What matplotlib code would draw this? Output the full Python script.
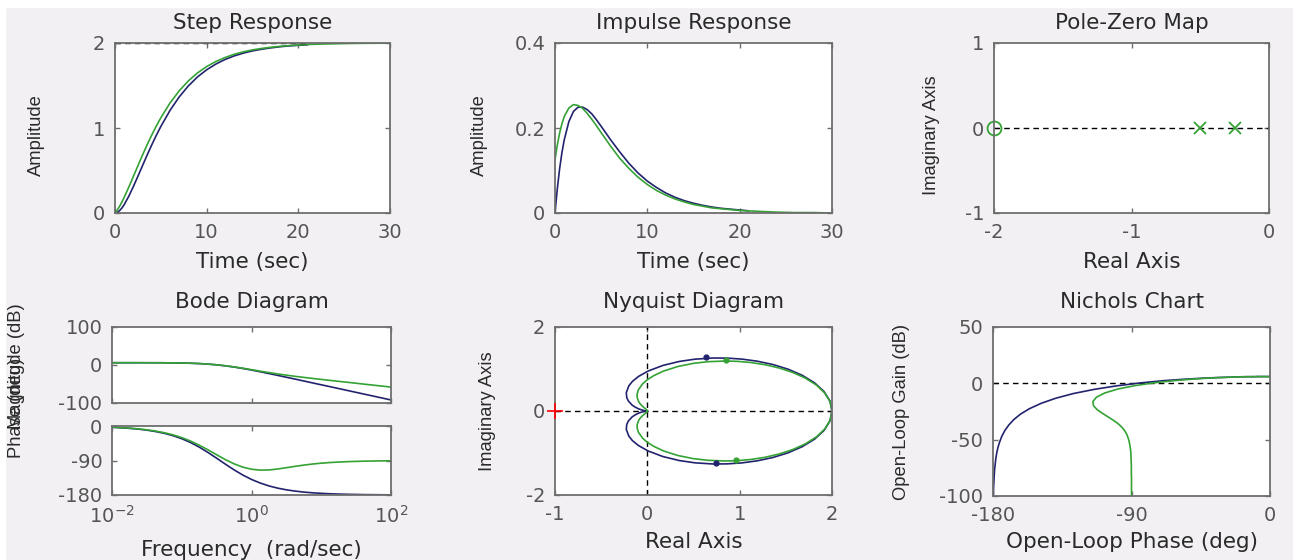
import matplotlib
matplotlib.use('Agg')
import matplotlib.pyplot as plt
from matplotlib.patches import Rectangle

plt.rcParams['font.family'] = ['DejaVu Sans']
plt.rcParams['axes.unicode_minus'] = False
plt.rcParams['mathtext.fontset'] = 'dejavusans'

# ---------------- data ----------------
# Step / impulse responses (time in sec)
t_b = [0, 0.25, 0.5, 0.75, 1, 1.5, 2, 2.5, 3, 3.5, 4, 4.5, 5, 6, 7, 8, 9, 10, 11, 12, 13, 14, 15, 16, 17, 18, 19, 20, 21]
t_g = [0, 0.25, 0.5, 0.75, 1, 1.5, 2, 2.5, 3, 3.5, 4, 4.5, 5, 6, 7, 8, 9, 10, 11, 12, 13, 14, 15, 16, 17, 18, 19, 20, 21, 22, 24, 26, 28, 30]
step_blue = [0.000, 0.007, 0.028, 0.058, 0.098, 0.196, 0.310, 0.432, 0.557, 0.680, 0.799, 0.912, 1.018, 1.207, 1.365, 1.495, 1.601, 1.685, 1.752, 1.806, 1.848, 1.881, 1.907, 1.927, 1.943, 1.956, 1.966, 1.973, 1.979]
step_green = [0.000, 0.036, 0.079, 0.129, 0.184, 0.303, 0.429, 0.556, 0.681, 0.802, 0.915, 1.022, 1.120, 1.294, 1.437, 1.554, 1.648, 1.723, 1.782, 1.829, 1.867, 1.896, 1.919, 1.936, 1.950, 1.961, 1.970, 1.976, 1.982, 1.986, 1.991, 1.995, 1.997, 1.998]
step_final = 2.0
imp_blue = [0.000, 0.057, 0.104, 0.142, 0.172, 0.215, 0.239, 0.249, 0.249, 0.243, 0.233, 0.219, 0.204, 0.173, 0.144, 0.117, 0.094, 0.075, 0.060, 0.047, 0.037, 0.029, 0.023, 0.018, 0.014, 0.011, 0.009, 0.007, 0.005]
imp_green = [0.125, 0.160, 0.188, 0.210, 0.227, 0.247, 0.255, 0.253, 0.246, 0.234, 0.220, 0.205, 0.189, 0.158, 0.129, 0.105, 0.084, 0.067, 0.053, 0.042, 0.033, 0.026, 0.020, 0.016, 0.012, 0.010, 0.008, 0.006, 0.005, 0.004, 0.002, 0.001, 0.001, 0.000]

# Pole-zero map
poles_re = [-0.5, -0.25]
poles_im = [0, 0]
zeros_re = [-2]
zeros_im = [0]

# Bode diagram
freq = [0.01, 0.01334, 0.01778, 0.02371, 0.03162, 0.04217, 0.05623, 0.07499,
        0.1, 0.1334, 0.1778, 0.2371, 0.3162, 0.4217, 0.5623, 0.7499,
        1, 1.334, 1.778, 2.371, 3.162, 4.217, 5.623, 7.499,
        10, 13.34, 17.78, 23.71, 31.62, 42.17, 56.23, 74.99, 100]
mag_blue = [6.0, 6.0, 6.0, 6.0, 5.9, 5.9, 5.8, 5.5, 5.2, 4.6, 3.7, 2.4, 0.4, -2.2, -5.4, -9.1, -13.3, -17.8, -22.5, -27.3, -32.2, -37.1, -42.1, -47.1, -52.1, -57.0, -62.0, -67.0, -72.0, -77.0, -82.0, -87.0, -92.0]
mag_green = [6.0, 6.0, 6.0, 6.0, 5.9, 5.9, 5.8, 5.6, 5.2, 4.7, 3.8, 2.4, 0.5, -2.0, -5.0, -8.5, -12.3, -16.2, -19.9, -23.5, -26.7, -29.8, -32.6, -35.3, -37.9, -40.5, -43.0, -45.5, -48.0, -50.6, -53.1, -55.6, -58.1]
phase_blue = [-3.4, -4.6, -6.1, -8.1, -10.8, -14.4, -19.1, -25.2, -33.1, -43.0, -55.0, -68.9, -84.0, -99.5, -114.4, -127.9, -139.4, -148.8, -156.3, -162.1, -166.5, -169.8, -172.4, -174.3, -175.7, -176.8, -177.6, -178.2, -178.6, -179.0, -179.2, -179.4, -179.6]
phase_green = [-3.1, -4.2, -5.6, -7.5, -9.9, -13.2, -17.5, -23.1, -30.2, -39.2, -49.9, -62.1, -75.0, -87.6, -98.7, -107.3, -112.8, -115.1, -114.7, -112.2, -108.8, -105.2, -102.0, -99.2, -97.0, -95.3, -94.0, -93.0, -92.3, -91.7, -91.3, -91.0, -90.7]

# Nyquist diagram (positive-frequency branch; the other branch is its mirror image)
nyq_blue_re = [2.000, 1.978, 1.913, 1.811, 1.678, 1.525, 1.360, 1.190, 1.023, 0.864, 0.715, 0.516, 0.347, 0.169, 0.009, -0.096, -0.162, -0.200, -0.228, -0.223, -0.206, -0.165, -0.129, -0.092, -0.056, -0.037, -0.026, -0.015, -0.007, -0.002, -0.001, 0.000, 0.000]
nyq_blue_im = [0.000, -0.238, -0.465, -0.671, -0.849, -0.995, -1.107, -1.186, -1.236, -1.259, -1.262, -1.234, -1.180, -1.085, -0.952, -0.822, -0.704, -0.600, -0.437, -0.321, -0.240, -0.141, -0.089, -0.049, -0.022, -0.011, -0.007, -0.003, -0.001, 0.000, 0.000, 0.000, 0.000]
nyq_green_re = [2.000, 1.980, 1.922, 1.831, 1.712, 1.575, 1.426, 1.273, 1.122, 0.977, 0.841, 0.658, 0.501, 0.331, 0.176, 0.069, -0.003, -0.050, -0.097, -0.111, -0.110, -0.094, -0.076, -0.055, -0.034, -0.023, -0.016, -0.009, -0.004, -0.002, 0.000, 0.000, 0.000]
nyq_green_im = [0.000, -0.218, -0.427, -0.617, -0.782, -0.918, -1.025, -1.103, -1.154, -1.182, -1.190, -1.174, -1.135, -1.060, -0.951, -0.841, -0.740, -0.650, -0.505, -0.399, -0.322, -0.224, -0.166, -0.118, -0.078, -0.058, -0.046, -0.033, -0.021, -0.013, -0.006, -0.003, -0.001]
arrow_blue_re = [0.63, 0.74]
arrow_blue_im = [1.28, -1.24]
arrow_green_re = [0.85, 0.96]
arrow_green_im = [1.22, -1.16]
crit_re = [-1]
crit_im = [0]

# Nichols chart
nich_blue_phase = [-0.3, -0.5, -0.6, -0.8, -1.1, -1.4, -1.9, -2.6, -3.4, -4.6, -6.1, -8.1, -10.8, -14.4, -19.1, -25.2, -33.1, -43.0, -55.0, -68.9, -84.0, -99.5, -114.4, -127.9, -139.4, -148.8, -156.3, -162.1, -166.5, -169.8, -172.4, -174.3, -175.7, -176.8, -177.6, -178.2, -178.6, -179.0, -179.2, -179.4, -179.6, -179.7, -179.8]
nich_blue_gain = [6.0, 6.0, 6.0, 6.0, 6.0, 6.0, 6.0, 6.0, 6.0, 6.0, 6.0, 6.0, 5.9, 5.9, 5.8, 5.5, 5.2, 4.6, 3.7, 2.4, 0.4, -2.2, -5.4, -9.1, -13.3, -17.8, -22.5, -27.3, -32.2, -37.1, -42.1, -47.1, -52.1, -57.0, -62.0, -67.0, -72.0, -77.0, -82.0, -87.0, -92.0, -97.0, -102.0]
nich_green_phase = [-0.3, -0.4, -0.6, -0.7, -1.0, -1.3, -1.8, -2.4, -3.1, -4.2, -5.6, -7.5, -9.9, -13.2, -17.5, -23.1, -30.2, -39.2, -49.9, -62.1, -75.0, -87.6, -98.7, -107.3, -112.8, -115.1, -114.7, -112.2, -108.8, -105.2, -102.0, -99.2, -97.0, -95.3, -94.0, -93.0, -92.3, -91.7, -91.3, -91.0, -90.7, -90.5, -90.4, -90.3, -90.2, -90.2, -90.1, -90.1, -90.1, -90.1, -90.0, -90.0, -90.0, -90.0, -90.0, -90.0, -90.0, -90.0]
nich_green_gain = [6.0, 6.0, 6.0, 6.0, 6.0, 6.0, 6.0, 6.0, 6.0, 6.0, 6.0, 6.0, 5.9, 5.9, 5.8, 5.6, 5.2, 4.7, 3.8, 2.4, 0.5, -2.0, -5.0, -8.5, -12.3, -16.2, -19.9, -23.5, -26.7, -29.8, -32.6, -35.3, -37.9, -40.5, -43.0, -45.5, -48.0, -50.6, -53.1, -55.6, -58.1, -60.6, -63.1, -65.6, -68.1, -70.6, -73.1, -75.6, -78.1, -80.6, -83.1, -85.6, -88.1, -90.6, -93.1, -95.6, -98.1, -100.6]

# ---------------- styling ----------------
BLUE = '#22236e'
GREEN = '#35a235'
AXC = '#6e6e6e'
TXT = '#555555'
LAB = '#2a2a2a'
VFONT = ['Liberation Sans', 'DejaVu Sans']
LW = 1.2
W, H = 1293, 560
fig = plt.figure(figsize=(12.93, 5.6), dpi=100, facecolor='#f2f0f3')
fig.patches.append(Rectangle((0, 1 - 7 / H), 1, 7 / H, transform=fig.transFigure, color='white', zorder=0))
fig.patches.append(Rectangle((0, 0), 5 / W, 1, transform=fig.transFigure, color='white', zorder=0))


def px(l, t, r, b):
    return [l / W, 1 - b / H, (r - l) / W, (b - t) / H]


def style(ax):
    ax.set_facecolor('white')
    for s in ax.spines.values():
        s.set_color(AXC)
        s.set_linewidth(1.3)
    ax.tick_params(direction='in', top=True, right=True, length=3.5, width=1,
                   color=AXC, labelcolor=TXT, labelsize=14, pad=7)
    ax.minorticks_off()


def title(ax, s, pad):
    ax.set_title(s, fontsize=15.5, color=LAB, pad=pad)


def ylab(ax, s, x, y=0.46):
    ax.set_ylabel(s, family=VFONT, fontsize=13.2, color=LAB, va='center')
    ax.yaxis.set_label_coords(x, y)


def xlab(ax, s, y):
    ax.set_xlabel(s, fontsize=15.5, color=LAB, va='center')
    ax.xaxis.set_label_coords(0.5, y)


dash = dict(color='k', lw=1, dashes=(4, 3))

# Step Response
ax = fig.add_axes(px(115, 43, 390, 213)); style(ax)
ax.plot(t_b, step_blue, color=BLUE, lw=LW)
ax.plot(t_g, step_green, color=GREEN, lw=LW)
ax.plot([t_b[0], t_b[-1]], [step_final, step_final], **dash)
ax.set_xlim(0, 30); ax.set_ylim(0, 2)
ax.set_xticks([0, 10, 20, 30]); ax.set_yticks([0, 1, 2])
title(ax, 'Step Response', 10); ylab(ax, 'Amplitude', -0.284); xlab(ax, 'Time (sec)', -0.288)

# Impulse Response
ax = fig.add_axes(px(555, 43, 832, 213)); style(ax)
ax.plot(t_b, imp_blue, color=BLUE, lw=LW)
ax.plot(t_g, imp_green, color=GREEN, lw=LW)
ax.axhline(0, **dash)
ax.set_xlim(0, 30); ax.set_ylim(0, 0.4)
ax.set_xticks([0, 10, 20, 30]); ax.set_yticks([0, 0.2, 0.4]); ax.set_yticklabels(['0', '0.2', '0.4'])
title(ax, 'Impulse Response', 10); ylab(ax, 'Amplitude', -0.274); xlab(ax, 'Time (sec)', -0.288)

# Pole-Zero Map
ax = fig.add_axes(px(994, 43, 1269, 213)); style(ax)
ax.axhline(0, **dash)
ax.plot(poles_re, poles_im, 'x', color=GREEN, ms=9, mew=1.3)
ax.plot(zeros_re, zeros_im, 'o', mfc='none', mec=GREEN, ms=10, mew=1.3, clip_on=False)
ax.set_xlim(-2, 0); ax.set_ylim(-1, 1)
ax.set_xticks([-2, -1, 0]); ax.set_yticks([-1, 0, 1])
title(ax, 'Pole-Zero Map', 10); ylab(ax, 'Imaginary Axis', -0.228); xlab(ax, 'Real Axis', -0.288)

# Bode Diagram
axm = fig.add_axes(px(112, 327, 391, 403)); style(axm)
axp = fig.add_axes(px(112, 426, 391, 495)); style(axp)
for a in (axm, axp):
    a.set_xscale('log'); a.set_xlim(1e-2, 1e2); a.set_xticks([1e-2, 1, 1e2]); a.minorticks_off()
axm.plot(freq, mag_blue, color=BLUE, lw=LW); axm.plot(freq, mag_green, color=GREEN, lw=LW)
axp.plot(freq, phase_blue, color=BLUE, lw=LW); axp.plot(freq, phase_green, color=GREEN, lw=LW)
axm.set_ylim(-100, 100); axm.set_yticks([-100, 0, 100]); axm.set_xticklabels([])
axp.set_ylim(-180, 0); axp.set_yticks([-180, -90, 0])
axp.set_xticklabels(['$10^{-2}$', '$10^{0}$', '$10^{2}$'])
title(axm, 'Bode Diagram', 14)
axp.set_xlabel('Frequency  (rad/sec)', fontsize=15.5, color=LAB, va='center')
axp.xaxis.set_label_coords(0.5, -0.8)
fig.text(17 / W, 1 - 303 / H, 'Magnitude (dB)', rotation=90, ha='center', va='top',
         family=VFONT, fontsize=13.2, color=LAB)
fig.text(17 / W, 1 - 458 / H, 'Phase (deg)', rotation=90, ha='center', va='bottom',
         family=VFONT, fontsize=13.2, color=LAB)

# Nyquist Diagram
ax = fig.add_axes(px(555, 327, 832, 495)); style(ax)
ax.axhline(0, **dash); ax.axvline(0, **dash)
ax.plot(nyq_blue_re, nyq_blue_im, color=BLUE, lw=LW)
ax.plot(nyq_blue_re, [-v for v in nyq_blue_im], color=BLUE, lw=LW)
ax.plot(nyq_green_re, nyq_green_im, color=GREEN, lw=LW)
ax.plot(nyq_green_re, [-v for v in nyq_green_im], color=GREEN, lw=LW)
ax.plot(arrow_blue_re, arrow_blue_im, 'o', color=BLUE, ms=3.5)
ax.plot(arrow_green_re, arrow_green_im, 'o', color=GREEN, ms=3.5)
ax.plot(crit_re, crit_im, '+', color='red', ms=12, mew=1.2, clip_on=False, zorder=10)
ax.set_xlim(-1, 2); ax.set_ylim(-2, 2)
ax.set_xticks([-1, 0, 1, 2]); ax.set_yticks([-2, 0, 2])
title(ax, 'Nyquist Diagram', 14); ylab(ax, 'Imaginary Axis', -0.242, 0.5); xlab(ax, 'Real Axis', -0.277)

# Nichols Chart
ax = fig.add_axes(px(993, 327, 1270, 496)); style(ax)
ax.axhline(0, **dash)
ax.plot(nich_blue_phase, nich_blue_gain, color=BLUE, lw=LW)
ax.plot(nich_green_phase, nich_green_gain, color=GREEN, lw=LW)
ax.set_xlim(-180, 0); ax.set_ylim(-100, 50)
ax.set_xticks([-180, -90, 0]); ax.set_yticks([-100, -50, 0, 50])
title(ax, 'Nichols Chart', 14); ylab(ax, 'Open-Loop Gain (dB)', -0.329, 0.5); xlab(ax, 'Open-Loop Phase (deg)', -0.275)

fig.savefig('out.png', dpi=100, facecolor=fig.get_facecolor())
